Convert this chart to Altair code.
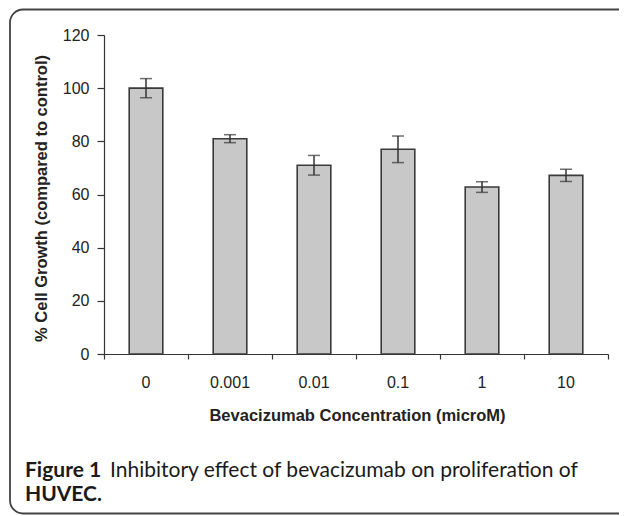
import altair as alt
import pandas as pd

categories = ["0", "0.001", "0.01", "0.1", "1", "10"]
growth = [100.0, 81.0, 71.0, 77.0, 62.8, 67.2]
errors = [3.6, 1.5, 3.7, 5.0, 2.0, 2.3]
y_ticks = [0, 20, 40, 60, 80, 100, 120]
x_title = "Bevacizumab Concentration (microM)"
y_title = "% Cell Growth (compared to control)"
caption_bold = ["Figure 1", "HUVEC."]
caption_regular = ["Inhibitory effect of bevacizumab on proliferation of"]

W, H = 504, 319
FONT = "Liberation Sans"
CAP_FONT = "Lato"
DARK = "#333333"

df = pd.DataFrame({"cat": categories, "growth": growth, "err": errors})
df["pos"] = [i + 0.5 for i in range(len(df))]
df["x0"] = df["pos"] - 0.2
df["x1"] = df["pos"] + 0.2
df["lo"] = df["growth"] - df["err"]
df["hi"] = df["growth"] + df["err"]

xscale = alt.Scale(domain=[0, len(categories)], nice=False, zero=False)
yscale = alt.Scale(domain=[0, 120], nice=False)

xaxis = alt.Axis(values=list(range(len(categories) + 1)), labels=False, tickSize=5,
                 grid=False, titleX=253, titleY=61, titleBaseline="middle")
yaxis = alt.Axis(values=y_ticks, tickSize=7, labelPadding=8, grid=False,
                 titleX=-63, titleY=163, titleBaseline="middle", titleAlign="center")

base = alt.Chart(df)

bars = base.mark_rect(fill="#c8c8c8", stroke="#3a3a3a", strokeWidth=1.6).encode(
    x=alt.X("x0:Q", scale=xscale, axis=xaxis, title=x_title),
    x2="x1:Q",
    y=alt.Y("growth:Q", scale=yscale, axis=yaxis, title=y_title),
    y2=alt.datum(0),
)

rules = base.mark_rule(color=DARK, strokeWidth=1.5).encode(
    x=alt.X("pos:Q", scale=xscale, title=x_title),
    y=alt.Y("lo:Q", scale=yscale, title=y_title),
    y2="hi:Q",
)
cap_lo = base.mark_tick(orient="horizontal", size=12, thickness=1.5, color=DARK).encode(
    x=alt.X("pos:Q", scale=xscale, title=x_title),
    y=alt.Y("lo:Q", scale=yscale, title=y_title),
)
cap_hi = base.mark_tick(orient="horizontal", size=12, thickness=1.5, color=DARK).encode(
    x=alt.X("pos:Q", scale=xscale, title=x_title),
    y=alt.Y("hi:Q", scale=yscale, title=y_title),
)

labels = base.mark_text(font=FONT, fontSize=16, color="#222222", baseline="middle").encode(
    x=alt.X("pos:Q", scale=xscale, title=x_title),
    y=alt.value(348),
    text="cat:N",
)

one = pd.DataFrame({"k": [0]})
frame = alt.Chart(one).mark_rect(fill="transparent", stroke="#444444", strokeWidth=1.8,
                                 cornerRadius=13).encode(
    x=alt.value(-94), x2=alt.value(560), y=alt.value(-25.5), y2=alt.value(478.5)
)

cap1 = alt.Chart(pd.DataFrame({"t": [caption_bold[0]]})).mark_text(
    font=CAP_FONT, fontSize=21, fontWeight="bold", color="#1a1a1a", align="left",
    baseline="alphabetic").encode(x=alt.value(-79), y=alt.value(442), text="t:N")
cap2 = alt.Chart(pd.DataFrame({"t": [caption_regular[0]]})).mark_text(
    font=CAP_FONT, fontSize=21, color="#1a1a1a", align="left",
    baseline="alphabetic").encode(x=alt.value(6), y=alt.value(442), text="t:N")
cap3 = alt.Chart(pd.DataFrame({"t": [caption_bold[1]]})).mark_text(
    font=CAP_FONT, fontSize=21, fontWeight="bold", color="#1a1a1a", align="left",
    baseline="alphabetic").encode(x=alt.value(-79), y=alt.value(465.5), text="t:N")

chart = alt.layer(frame, bars, rules, cap_lo, cap_hi, labels, cap1, cap2, cap3).properties(
    width=W, height=H,
    autosize=alt.AutoSizeParams(type="none"),
    padding={"left": 96, "top": 27, "right": 11, "bottom": 162},
).configure_view(stroke=None).configure_axis(
    domainColor=DARK, tickColor=DARK, domainWidth=1.2, tickWidth=1.2,
    labelFont=FONT, labelFontSize=16, labelColor="#222222",
    titleFont=FONT, titleFontSize=16.5, titleFontWeight="bold", titleColor="#222222",
)

chart.save("out.html", embed_options={"renderer": "svg", "actions": False})
